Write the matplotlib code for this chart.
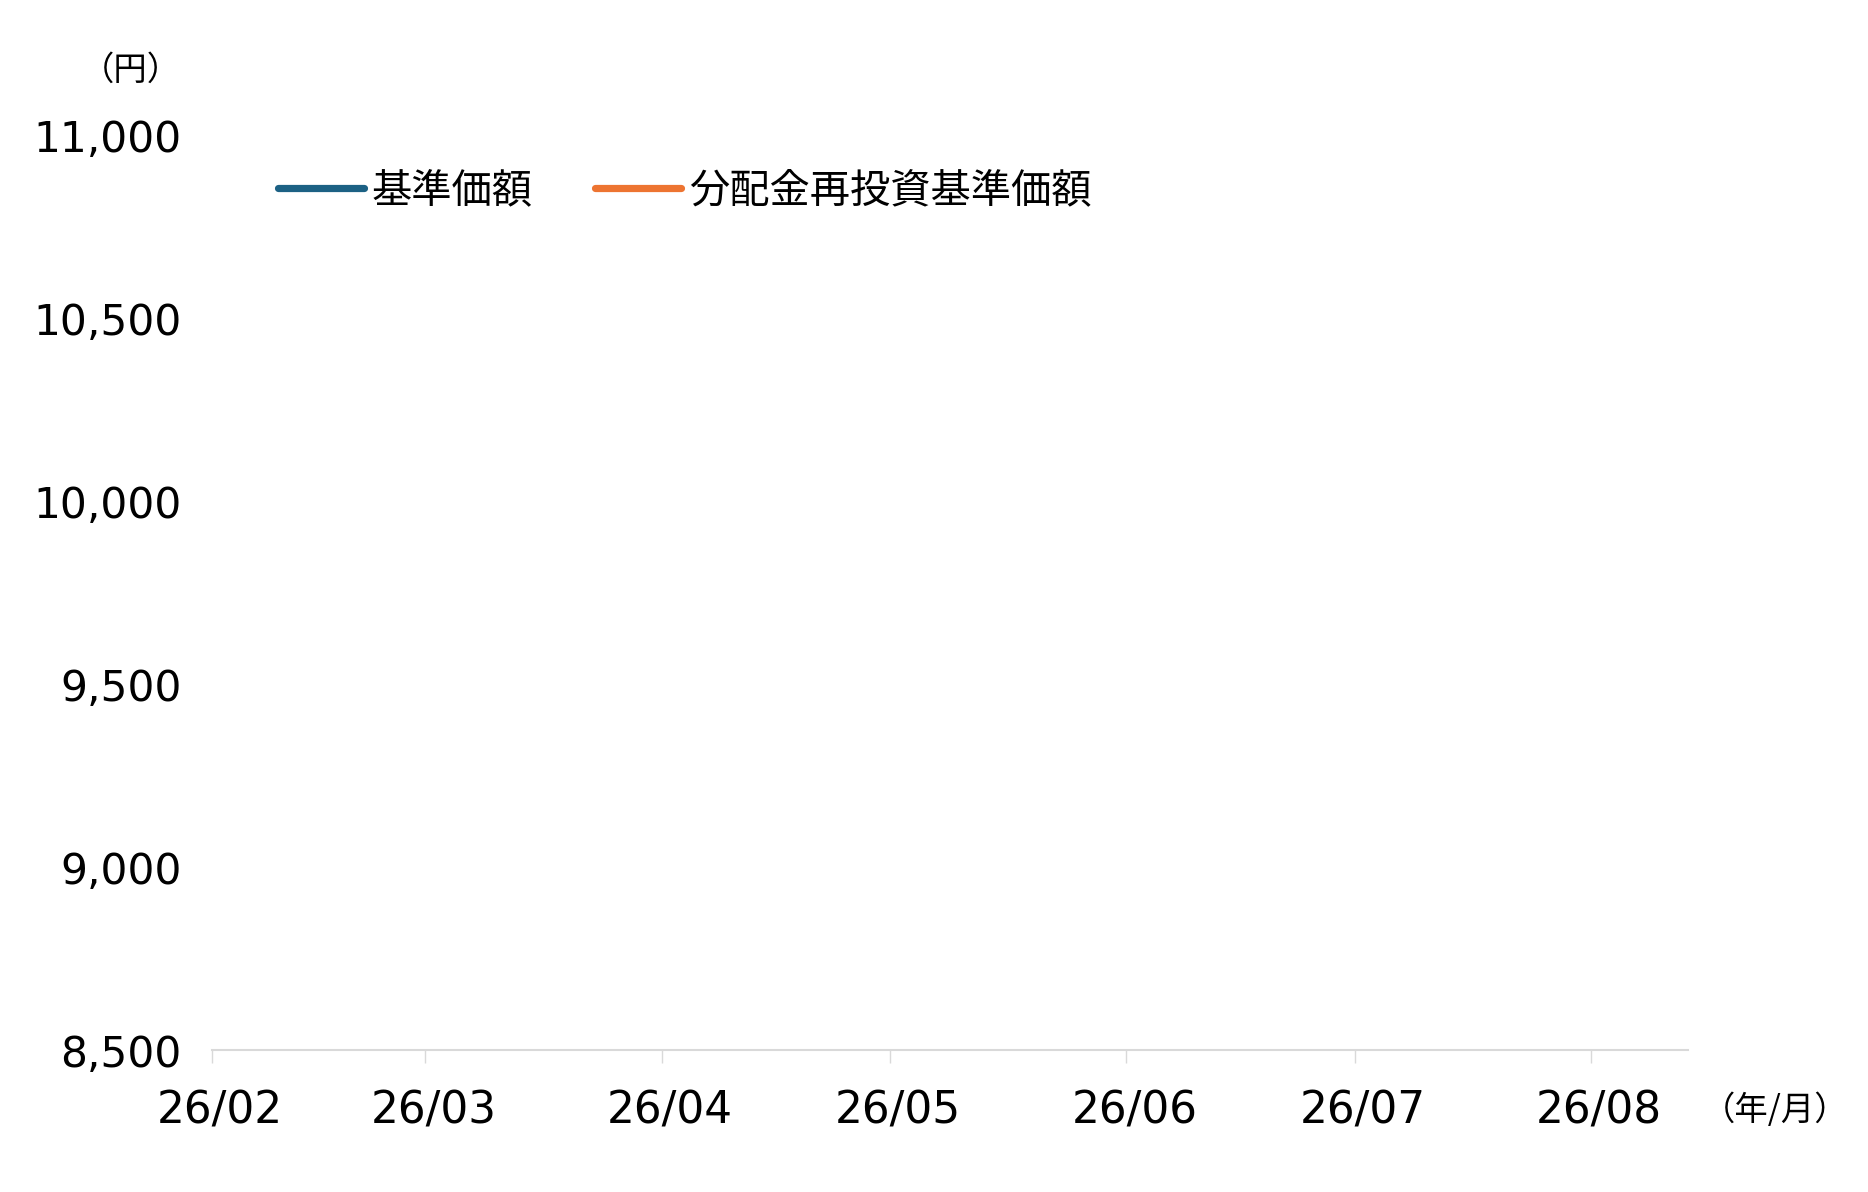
import matplotlib
matplotlib.use("Agg")
import matplotlib.pyplot as plt
import matplotlib.dates as mdates
import matplotlib.transforms as mtransforms
from datetime import datetime

plt.rcParams['font.family'] = ['DejaVu Sans', 'Noto Sans CJK JP']

# ---- data (the reference chart contains no plotted values) ----
dates = []                 # no observations shown
base_price = []            # 基準価額
reinvest_price = []        # 分配金再投資基準価額
series_names = ['基準価額', '分配金再投資基準価額']
series_colors = ['#1c6184', '#ed7431']
x_start = datetime(2026, 2, 1)
x_end = datetime(2026, 8, 13, 17)
y_min, y_max = 8500, 11000
y_ticks = [8500, 9000, 9500, 10000, 10500, 11000]
x_ticks = [datetime(2026, m, 1) for m in range(2, 9)]
x_tick_labels = ['26/02', '26/03', '26/04', '26/05', '26/06', '26/07', '26/08']

W, H = 1868, 1192
fig = plt.figure(figsize=(W / 100, H / 100), dpi=100)
ax = fig.add_axes([212 / W, 1 - 1050 / H, (1688 - 212) / W, (1050 - 135) / H])

l1, = ax.plot(dates, base_price, color=series_colors[0], lw=5.2, solid_capstyle='round', label=series_names[0])
l2, = ax.plot(dates, reinvest_price, color=series_colors[1], lw=5.2, solid_capstyle='round', label=series_names[1])

ax.xaxis_date()
ax.set_xlim(x_start, x_end)
ax.set_ylim(y_min, y_max)
ax.set_yticks(y_ticks)
ax.set_yticklabels([f'{v:,}' for v in y_ticks])
ax.set_xticks(x_ticks)
ax.set_xticklabels(x_tick_labels)

for s in ['top', 'right', 'left']:
    ax.spines[s].set_visible(False)
ax.spines['bottom'].set_color('#d9d9d9')
ax.spines['bottom'].set_linewidth(1.5)

ax.tick_params(axis='y', length=0, pad=22, labelsize=30.5, labelcolor='#000000')
ax.tick_params(axis='x', length=9.4, width=1.0, color='#d9d9d9', pad=19, labelsize=31.5, labelcolor='#000000')

offset = mtransforms.ScaledTranslation(8 / 100, 0, fig.dpi_scale_trans)
for lab in ax.get_xticklabels():
    lab.set_transform(lab.get_transform() + offset)

leg = fig.legend(handles=[l1, l2], loc='center left',
                 bbox_to_anchor=(278 / W, 1 - 191 / H), ncol=2, frameon=False,
                 prop={'family': ['Noto Sans CJK JP', 'DejaVu Sans'], 'size': 29},
                 handlelength=2.13, handletextpad=0.2, columnspacing=1.55,
                 borderpad=0, borderaxespad=0)

fig.text(131 / W, 1 - 70 / H, '（円）', ha='center', va='center', fontsize=24,
         family=['Noto Sans CJK JP', 'DejaVu Sans'])
fig.text(1775 / W, 1 - 1110 / H, '（年/月）', ha='center', va='center', fontsize=24,
         family=['Noto Sans CJK JP', 'DejaVu Sans'])

fig.savefig('out.png', dpi=100, facecolor='white')
